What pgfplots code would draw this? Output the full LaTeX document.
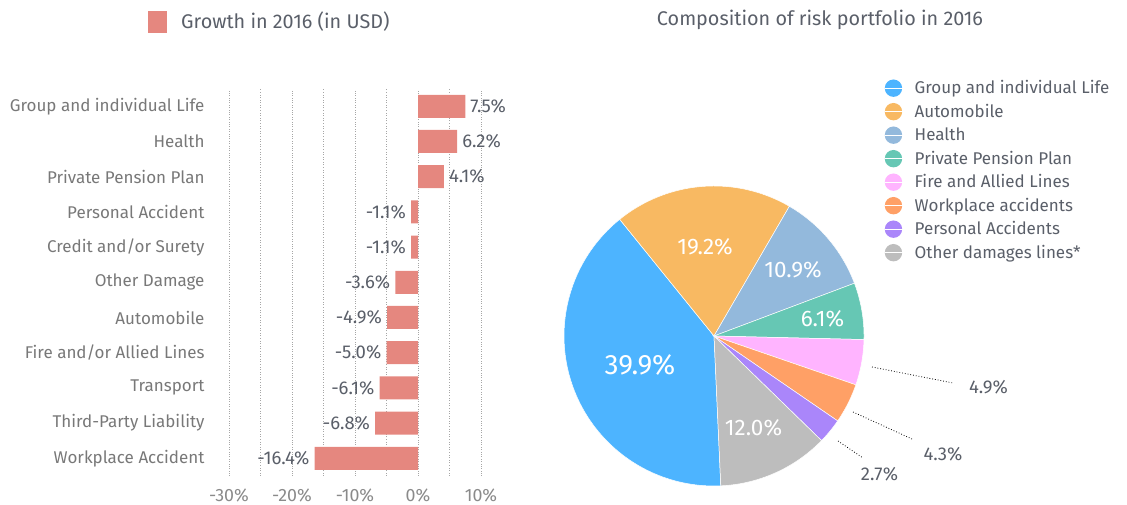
\documentclass[border=0pt]{standalone}
\usepackage{pgfplots}
\pgfplotsset{compat=1.18}
\usepackage{pgfplotstable}
\usepackage{fontspec}
\setmainfont{Fira Sans}
\definecolor{barred}{HTML}{E5877F}
\definecolor{cblue}{HTML}{4DB4FF}
\definecolor{cauto}{HTML}{F8B962}
\definecolor{chealth}{HTML}{93B9DC}
\definecolor{cteal}{HTML}{66C7B4}
\definecolor{cpink}{HTML}{FFB4FF}
\definecolor{corange}{HTML}{FFA066}
\definecolor{cpurple}{HTML}{AA86FA}
\definecolor{cgray}{HTML}{BDBDBD}
\definecolor{txtdark}{HTML}{5A5F69}
\definecolor{txtcat}{HTML}{787878}
\definecolor{txttick}{HTML}{8A8A8A}
\newcommand\lblfont{\fontsize{17bp}{20bp}\selectfont}
\newcommand\valfont{\fontsize{18.5bp}{22bp}\selectfont}
\newcommand\bigfont{\fontsize{19.8bp}{23bp}\selectfont}

% growth by line of business (bottom to top)
\pgfplotstableread{
idx val lab
8 4.1 4.1
9 6.2 6.2
10 7.5 7.5
}\growthpos
\pgfplotstableread{
idx val lab
0 -16.4 -16.4
1 -6.8 -6.8
2 -6.1 -6.1
3 -5.0 -5.0
4 -4.9 -4.9
5 -3.6 -3.6
6 -1.1 -1.1
7 -1.1 -1.1
}\growthneg

\begin{document}
\begin{tikzpicture}[x=1bp,y=1bp]
\path[use as bounding box] (0,0) rectangle (1127,505);

\begin{axis}[
  at={(229bp,29.1bp)}, anchor=south west,
  scale only axis, width=252bp, height=387.2bp,
  xbar, bar width=23bp, bar shift=0pt,
  xmin=-30, xmax=10, ymin=-0.5, ymax=10.5,
  ytick={0,...,10},
  yticklabels={Workplace Accident,Third-Party Liability,Transport,Fire and/or Allied Lines,Automobile,Other Damage,Credit and/or Surety,Personal Accident,Private Pension Plan,Health,Group and individual Life},
  xtick={-30,-20,-10,0,10}, minor xtick={-25,-15,-5,5},
  xmajorgrids, xminorgrids,
  grid style={dotted, black!35, line width=0.6pt},
  minor grid style={dotted, black!35, line width=0.6pt},
  axis line style={draw=none},
  major tick length=0pt, minor tick length=0pt,
  /pgf/number format/assume math mode=true,
  xticklabel={\pgfmathprintnumber{\tick}\%},
  xticklabel style={font=\fontsize{17.8bp}{21bp}\selectfont, text=txttick, yshift=-9bp},
  yticklabel style={font=\lblfont, text=txtcat, anchor=east, xshift=-21bp},
  clip=false,
  legend style={draw=none, fill=none, inner sep=0pt, font=\bigfont, text=txtdark,
    at={(-0.3214,1.1723)}, anchor=west,
    nodes={inner sep=0pt, text height=19bp, text depth=5.5bp}},
  legend image code/.code={\fill[#1] (0bp,-11bp) rectangle (19bp,11bp); \path (33bp,0bp);},
]
\addplot[fill=barred, draw=none,
  point meta=explicit symbolic,
  nodes near coords={\pgfplotspointmeta\%},
  nodes near coords style={font=\valfont, text=txtdark, inner sep=5bp, anchor=west}]
  table[x=val, y=idx, meta=lab] {\growthpos};
\addlegendentry{Growth in 2016 (in USD)}
\addplot[fill=barred, draw=none, forget plot,
  point meta=explicit symbolic,
  nodes near coords={\pgfplotspointmeta\%},
  nodes near coords style={font=\valfont, text=txtdark, inner sep=5bp, anchor=east}]
  table[x=val, y=idx, meta=lab] {\growthneg};
\end{axis}

% pie: shares of the risk portfolio (clockwise)
\pgfmathsetmacro\pA{-87.4}
\pgfmathsetmacro\pB{\pA-3.6*39.9}
\pgfmathsetmacro\pC{\pB-3.6*19.2}
\pgfmathsetmacro\pD{\pC-3.6*10.9}
\pgfmathsetmacro\pE{\pD-3.6*6.1}
\pgfmathsetmacro\pF{\pE-3.6*4.9}
\pgfmathsetmacro\pG{\pF-3.6*4.3}
\pgfmathsetmacro\pH{\pG-3.6*2.7}
\pgfmathsetmacro\pI{\pH-3.6*12.0}

\begin{axis}[
  at={(714bp,169bp)}, anchor=center,
  scale only axis, width=300bp, height=300bp,
  xmin=-150, xmax=150, ymin=-150, ymax=150,
  hide axis, clip=false,
  legend style={draw=none, fill=none, inner sep=0pt, font=\lblfont, text=txtdark,
    at={(axis cs:170.3,259.75)}, anchor=north west, row sep=0pt,
    nodes={inner sep=0pt, text height=17.25bp, text depth=6.25bp}},
  legend cell align=left,
  legend image code/.code={\fill[#1, draw=none] (0bp,0bp) circle (8.7bp); \path (-8.7bp,0bp) -- (21bp,0bp);},
]
\addplot[fill=cblue, draw=white, line width=0.5pt, domain=\pB:\pA, samples=90] ({150*cos(x)},{150*sin(x)}) -- (axis cs:0,0) -- cycle;
\addlegendentry{Group and individual Life}
\addplot[fill=cauto, draw=white, line width=0.5pt, domain=\pC:\pB, samples=60] ({150*cos(x)},{150*sin(x)}) -- (axis cs:0,0) -- cycle;
\addlegendentry{Automobile}
\addplot[fill=chealth, draw=white, line width=0.5pt, domain=\pD:\pC, samples=40] ({150*cos(x)},{150*sin(x)}) -- (axis cs:0,0) -- cycle;
\addlegendentry{Health}
\addplot[fill=cteal, draw=white, line width=0.5pt, domain=\pE:\pD, samples=30] ({150*cos(x)},{150*sin(x)}) -- (axis cs:0,0) -- cycle;
\addlegendentry{Private Pension Plan}
\addplot[fill=cpink, draw=white, line width=0.5pt, domain=\pF:\pE, samples=30] ({150*cos(x)},{150*sin(x)}) -- (axis cs:0,0) -- cycle;
\addlegendentry{Fire and Allied Lines}
\addplot[fill=corange, draw=white, line width=0.5pt, domain=\pG:\pF, samples=30] ({150*cos(x)},{150*sin(x)}) -- (axis cs:0,0) -- cycle;
\addlegendentry{Workplace accidents}
\addplot[fill=cpurple, draw=white, line width=0.5pt, domain=\pH:\pG, samples=20] ({150*cos(x)},{150*sin(x)}) -- (axis cs:0,0) -- cycle;
\addlegendentry{Personal Accidents}
\addplot[fill=cgray, draw=white, line width=0.5pt, domain=\pI:\pH, samples=40] ({150*cos(x)},{150*sin(x)}) -- (axis cs:0,0) -- cycle;
\addlegendentry{Other damages lines*}
\end{axis}

% titles and pie labels (pixel positions, y measured from top)
\node[font=\bigfont, text=txtdark] at (820,{505-20}) {Composition of risk portfolio in 2016};
\node[font=\fontsize{28bp}{33bp}\selectfont, text=white] at (640,{505-365}) {39.9\%};
\node[font=\fontsize{22.5bp}{26bp}\selectfont, text=white] at (705,{505-247}) {19.2\%};
\node[font=\fontsize{22.5bp}{26bp}\selectfont, text=white] at (793,{505-270}) {10.9\%};
\node[font=\fontsize{22.5bp}{26bp}\selectfont, text=white] at (822.5,{505-319}) {6.1\%};
\node[font=\fontsize{22.5bp}{26bp}\selectfont, text=white] at (753.5,{505-428}) {12.0\%};
\draw[dotted, line width=0.8pt] (872,{505-367}) -- (953,{505-383});
\draw[dotted, line width=0.8pt] (853,{505-412}) -- (912,{505-439});
\draw[dotted, line width=0.8pt] (838,{505-441}) -- (863,{505-458});
\node[font=\valfont, text=txtdark] at (988.5,{505-387}) {4.9\%};
\node[font=\valfont, text=txtdark] at (943,{505-454}) {4.3\%};
\node[font=\valfont, text=txtdark] at (879.5,{505-474}) {2.7\%};
\end{tikzpicture}
\end{document}
